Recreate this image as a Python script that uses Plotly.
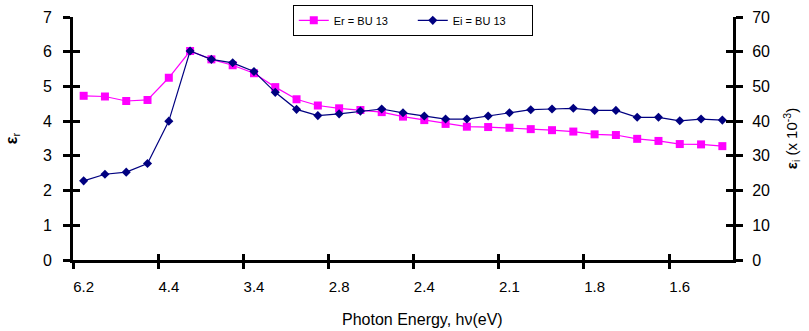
import plotly.graph_objects as go

# Photon energy categories (eV) for 31 evenly spaced measurement points
energy = ["6.20", "5.64", "5.17", "4.77", "4.43", "4.13", "3.88", "3.65", "3.44", "3.26",
          "3.10", "2.95", "2.82", "2.70", "2.58", "2.48", "2.38", "2.30", "2.21", "2.14",
          "2.07", "2.00", "1.94", "1.88", "1.82", "1.77", "1.72", "1.68", "1.63", "1.59", "1.55"]
tick_labels = ["6.2", "4.4", "3.4", "2.8", "2.4", "2.1", "1.8", "1.6"]

er = [4.73, 4.71, 4.58, 4.61, 5.25, 6.02, 5.78, 5.61, 5.38, 4.98,
      4.63, 4.45, 4.37, 4.32, 4.26, 4.13, 4.03, 3.92, 3.84, 3.83,
      3.81, 3.77, 3.74, 3.70, 3.62, 3.60, 3.49, 3.43, 3.34, 3.33, 3.28]
ei = [22.8, 24.7, 25.3, 27.8, 40.0, 60.2, 57.8, 56.8, 54.3, 48.3,
      43.4, 41.6, 42.1, 42.9, 43.5, 42.4, 41.5, 40.6, 40.6, 41.5,
      42.4, 43.3, 43.5, 43.7, 43.1, 43.1, 41.1, 41.1, 40.1, 40.6, 40.3]

idx = list(range(len(energy)))
n = len(energy)
label_pos = idx[::4]
boundaries = [i - 0.5 for i in idx[::4]]

FONT = "Liberation Sans, Arial, sans-serif"

fig = go.Figure()
fig.add_trace(go.Scatter(
    x=idx, y=er, name="Er = BU 13", mode="lines+markers",
    line=dict(color="#FF00FF", width=1.2),
    marker=dict(symbol="square", size=8, color="#FF00FF"),
    customdata=energy, hovertemplate="%{customdata} eV: %{y}<extra></extra>",
))
fig.add_trace(go.Scatter(
    x=idx, y=ei, name="Ei = BU 13", mode="lines+markers", yaxis="y2",
    line=dict(color="#000080", width=1.2),
    marker=dict(symbol="diamond", size=7, color="#000080"),
    customdata=energy, hovertemplate="%{customdata} eV: %{y}<extra></extra>",
))
# empty helper traces so the overlay tick axes (inner half of the cross ticks) get drawn
fig.add_trace(go.Scatter(x=[None], y=[None], xaxis="x2", yaxis="y3",
                         showlegend=False, hoverinfo="skip"))
fig.add_trace(go.Scatter(x=[None], y=[None], xaxis="x2", yaxis="y4",
                         showlegend=False, hoverinfo="skip"))

xr = [-0.5, n - 0.5]
fig.update_layout(
    width=809, height=331,
    margin=dict(l=73, r=76, t=17, b=71, autoexpand=False),
    plot_bgcolor="rgba(0,0,0,0)", paper_bgcolor="white",
    font=dict(family=FONT, color="black"),
    showlegend=True,
    legend=dict(
        orientation="h", x=0.333, y=1.05, xanchor="left", yanchor="top",
        bordercolor="black", borderwidth=1, bgcolor="white",
        font=dict(size=11, family=FONT),
        entrywidth=74, entrywidthmode="pixels",
    ),
    xaxis=dict(
        range=xr, tickmode="array", tickvals=label_pos, ticktext=tick_labels,
        ticks="", showgrid=False, zeroline=False,
        showline=True, linecolor="black", linewidth=3,
        tickfont=dict(size=15), ticklabelstandoff=11,
        minor=dict(tickmode="array", tickvals=boundaries, ticks="outside",
                   ticklen=6, tickwidth=3, tickcolor="black", showgrid=False),
    ),
    xaxis2=dict(
        range=xr, overlaying="x", anchor="y", side="bottom",
        tickmode="array", tickvals=boundaries, ticks="inside",
        ticklen=6, tickwidth=3, tickcolor="black",
        showticklabels=False, showgrid=False, zeroline=False, showline=False,
    ),
    yaxis=dict(
        range=[0, 7], dtick=1, ticks="outside", ticklen=7, tickwidth=3,
        tickcolor="black", showgrid=False, zeroline=False,
        showline=True, linecolor="black", linewidth=3,
        tickfont=dict(size=16), ticklabelstandoff=8,
        title=dict(text="<b>ε</b><sub>r</sub>", font=dict(size=16), standoff=22),
    ),
    yaxis3=dict(
        range=[0, 7], dtick=1, overlaying="y", side="left", anchor="x2",
        ticks="inside", ticklen=7, tickwidth=3, tickcolor="black",
        showticklabels=False, showgrid=False, zeroline=False, showline=False,
    ),
    yaxis2=dict(
        range=[0, 70], dtick=10, overlaying="y", side="right", anchor="x",
        ticks="outside", ticklen=7, tickwidth=3, tickcolor="black",
        showgrid=False, zeroline=False,
        showline=True, linecolor="black", linewidth=3,
        tickfont=dict(size=16), ticklabelstandoff=6,
        title=dict(text="<b>ε</b><sub>i</sub> (x 10<sup>-3</sup>)", font=dict(size=15), standoff=18),
    ),
    yaxis4=dict(
        range=[0, 70], dtick=10, overlaying="y", side="right", anchor="x2",
        ticks="inside", ticklen=7, tickwidth=3, tickcolor="black",
        showticklabels=False, showgrid=False, zeroline=False, showline=False,
    ),
    annotations=[dict(
        text="Photon Energy, hν(eV)", xref="paper", yref="paper",
        x=0.53, y=-0.2, xanchor="center", yanchor="top", showarrow=False,
        font=dict(size=16, family=FONT),
    )],
)

fig.write_html("out.html")
